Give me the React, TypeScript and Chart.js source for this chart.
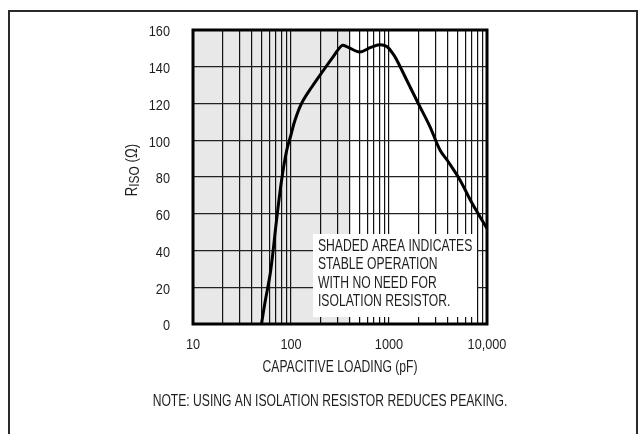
import React, { useEffect, useRef } from "react";
import { Chart, registerables } from "chart.js";

Chart.register(...registerables);

// ---- data ----
const CAP_PF = [50, 54, 62, 71, 80, 90, 100, 110, 128, 163, 214, 270, 330, 370, 500, 650, 800, 950, 1100, 1200, 1514, 1990, 2617, 3311, 4027, 5297, 7000, 10000];
const RISO_OHM = [0, 11, 29, 56, 78, 94, 103, 111, 120, 129, 138, 145.5, 151.5, 151, 148, 150.5, 152, 151, 147, 143.7, 132.8, 120, 107.4, 94.7, 88.3, 78.4, 66, 52];

const X_GRID = [10, 20, 30, 40, 50, 60, 70, 80, 90, 100, 200, 300, 400, 500, 600, 700, 800, 900, 1000, 2000, 3000, 4000, 5000, 6000, 7000, 8000, 9000, 10000];
const X_TICK_LABELS: Record<number, string> = { 10: "10", 100: "100", 1000: "1000", 10000: "10,000" };
const Y_TICKS = [0, 20, 40, 60, 80, 100, 120, 140, 160];

const SHADE_FROM_PF = 10;
const SHADE_TO_PF = 400;

const X_TITLE = "CAPACITIVE LOADING (pF)";
const Y_TITLE_MAIN = "R";
const Y_TITLE_SUB = "ISO";
const Y_TITLE_UNIT = " (Ω)";
const BOX_LINES = ["SHADED AREA INDICATES", "STABLE OPERATION", "WITH NO NEED FOR", "ISOLATION RESISTOR."];
const FOOTNOTE = "NOTE: USING AN ISOLATION RESISTOR REDUCES PEAKING.";

// ---- style ----
const FAMILY = "'Liberation Sans', Arial, Helvetica, sans-serif";
const TEXT = "#1e1e1e";
const W = 642;
const H = 434;

function narrowText(
  ctx: CanvasRenderingContext2D,
  text: string,
  x: number,
  y: number,
  size: number,
  sx: number,
  align: CanvasTextAlign,
  baseline: CanvasTextBaseline = "middle"
) {
  ctx.save();
  ctx.translate(x, y);
  ctx.scale(sx, 1);
  ctx.font = `${size}px ${FAMILY}`;
  ctx.textAlign = align;
  ctx.textBaseline = baseline;
  ctx.fillStyle = TEXT;
  ctx.fillText(text, 0, 0);
  ctx.restore();
}

const decor = {
  id: "decor",
  beforeDraw(chart: any) {
    const { ctx, chartArea: a, scales } = chart;
    const x = scales.x;
    ctx.save();
    // page frame
    ctx.strokeStyle = "#2a2a2a";
    ctx.lineWidth = 2;
    ctx.beginPath();
    ctx.moveTo(9, H + 5);
    ctx.lineTo(9, 11);
    ctx.lineTo(637, 11);
    ctx.lineTo(637, H + 5);
    ctx.stroke();
    // shaded stable region
    const x0 = x.getPixelForValue(SHADE_FROM_PF);
    const x1 = x.getPixelForValue(SHADE_TO_PF);
    ctx.fillStyle = "#e8e8e8";
    ctx.fillRect(x0, a.top, x1 - x0, a.bottom - a.top);
    ctx.restore();
  },
  beforeDatasetsDraw(chart: any) {
    const { ctx, chartArea: a } = chart;
    ctx.save();
    const bx = a.left + 120;
    const by = a.top + 204;
    ctx.fillStyle = "#fff";
    ctx.fillRect(bx, by, 164, 83);
    ctx.restore();
    BOX_LINES.forEach((t, i) => narrowText(ctx, t, bx + 5, by + 17 + i * 18.4, 16.2, 0.75, "left", "alphabetic"));
  },
  afterDraw(chart: any) {
    const { ctx, chartArea: a, scales } = chart;
    const xs = scales.x;
    const ys = scales.y;
    ctx.save();
    ctx.strokeStyle = "#000";
    ctx.lineWidth = 3;
    ctx.strokeRect(a.left, a.top, a.right - a.left, a.bottom - a.top);
    ctx.restore();

    // tick labels
    X_GRID.forEach((v) => {
      const lbl = X_TICK_LABELS[v];
      if (lbl) narrowText(ctx, lbl, xs.getPixelForValue(v), a.bottom + 21, 15.5, 0.82, "center");
    });
    Y_TICKS.forEach((v) => {
      narrowText(ctx, String(v), a.left - 23, ys.getPixelForValue(v) + 2, 15.5, 0.82, "right");
    });

    // axis titles
    narrowText(ctx, X_TITLE, (a.left + a.right) / 2, a.bottom + 44, 16.2, 0.75, "center");
    narrowText(ctx, FOOTNOTE, 330, a.bottom + 77, 16.4, 0.74, "center");

    // y title with subscript
    ctx.save();
    ctx.fillStyle = TEXT;
    ctx.translate(a.left - 61, 170);
    ctx.rotate(-Math.PI / 2);
    ctx.scale(0.8, 1);
    ctx.textBaseline = "middle";
    ctx.textAlign = "left";
    const fMain = `16.5px ${FAMILY}`;
    const fSub = `15px ${FAMILY}`;
    ctx.font = fMain;
    const w1 = ctx.measureText(Y_TITLE_MAIN).width;
    const w3 = ctx.measureText(Y_TITLE_UNIT).width;
    ctx.font = fSub;
    const w2 = ctx.measureText(Y_TITLE_SUB).width;
    let cx = -(w1 + w2 + w3) / 2;
    ctx.font = fMain;
    ctx.fillText(Y_TITLE_MAIN, cx, 0);
    cx += w1;
    ctx.font = fSub;
    ctx.fillText(Y_TITLE_SUB, cx, 3);
    cx += w2;
    ctx.font = fMain;
    ctx.fillText(Y_TITLE_UNIT, cx, 0);
    ctx.restore();
  },
};

export default function App() {
  const ref = useRef<HTMLCanvasElement | null>(null);
  useEffect(() => {
    if (!ref.current) return;
    const chart = new Chart(ref.current, {
      type: "line",
      data: {
        datasets: [
          {
            data: CAP_PF.map((c, i) => ({ x: c, y: RISO_OHM[i] })),
            borderColor: "#000",
            borderWidth: 3,
            pointRadius: 0,
            tension: 0.35,
            fill: false,
          },
        ],
      },
      options: {
        animation: false,
        responsive: false,
        events: [],
        layout: { padding: { left: 0, top: 30, right: W - 487, bottom: 57 } },
        plugins: {
          legend: { display: false },
          tooltip: { enabled: false },
          title: { display: false },
        },
        scales: {
          x: {
            type: "logarithmic",
            min: 10,
            max: 10000,
            afterBuildTicks: (s: any) => {
              s.ticks = X_GRID.map((v) => ({ value: v }));
            },
            afterFit: (s: any) => {
              s.height = 53;
            },
            ticks: { display: false, autoSkip: false, maxRotation: 0 },
            grid: { color: "#111", lineWidth: 1.2, drawTicks: false },
            border: { display: false },
            title: { display: false, text: X_TITLE },
          },
          y: {
            type: "linear",
            min: 0,
            max: 160,
            afterBuildTicks: (s: any) => {
              s.ticks = Y_TICKS.map((v) => ({ value: v }));
            },
            afterFit: (s: any) => {
              s.width = 193;
            },
            ticks: { display: false },
            grid: { color: "#222", lineWidth: 1.2, drawTicks: false },
            border: { display: false },
          },
        },
      } as any,
      plugins: [decor],
    });
    return () => chart.destroy();
  }, []);
  return (
    <canvas
      ref={ref}
      width={W}
      height={H}
      style={{ position: "fixed", left: 0, top: 0, width: W, height: H, display: "block" }}
    />
  );
}
